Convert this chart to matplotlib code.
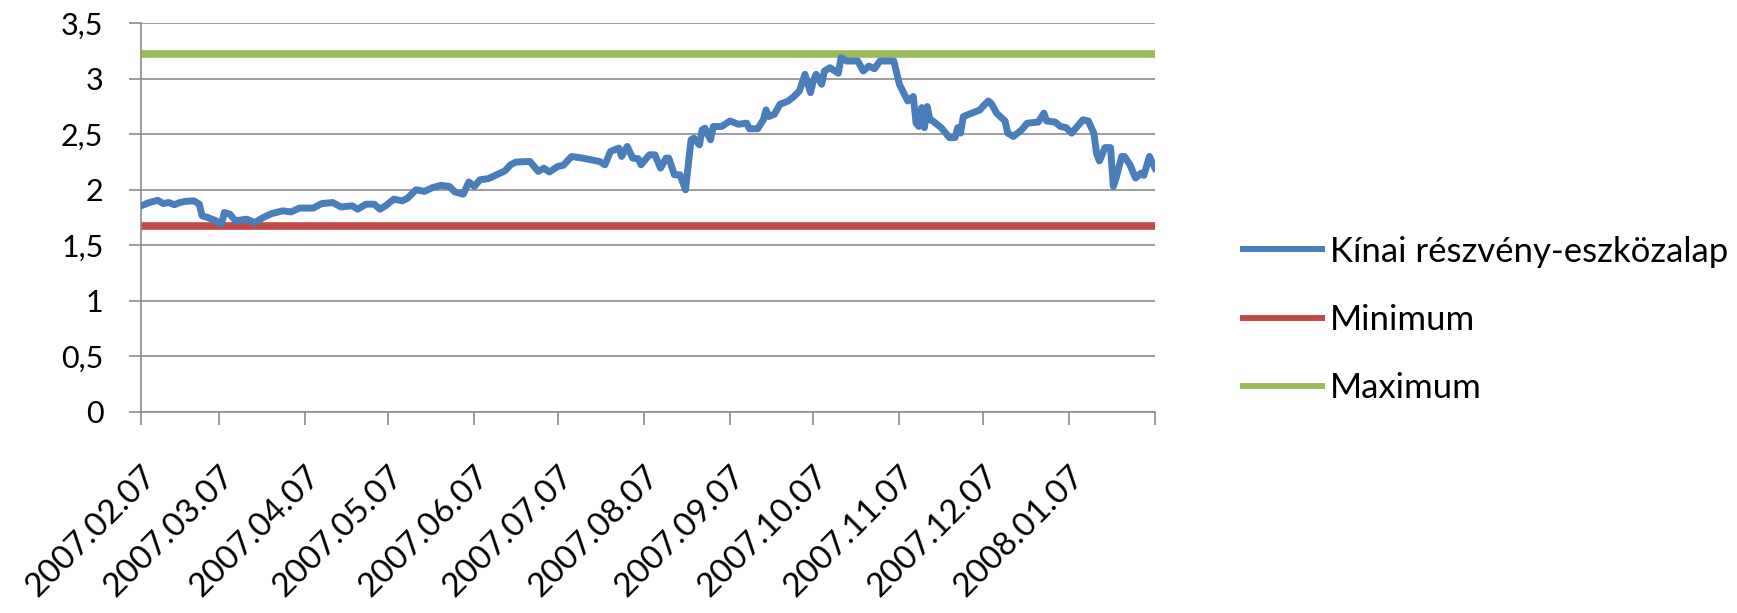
#%% IMPORTS
import datetime as dt
import matplotlib
matplotlib.use("Agg")
import matplotlib.pyplot as plt
from matplotlib.ticker import MultipleLocator, FuncFormatter

#%% DATA
start_date = dt.date(2007, 2, 7)
end_date = dt.date(2008, 2, 7)

# day offsets from start_date and fund value
fund_days = [0, 3, 6, 8, 10, 12, 14, 16, 19, 21, 22, 24, 27, 29, 30, 32, 34, 38,
             41, 44, 47, 51, 54, 57, 62, 65, 69, 72, 76, 78, 81, 84, 86, 88, 91,
             94, 96, 99, 102, 105, 108, 111, 113, 116, 118, 120, 122, 125, 128,
             131, 133, 135, 140, 143, 145, 147, 150, 152, 155, 159, 162, 165,
             167, 169, 172, 173, 175, 177, 179, 180, 183, 185, 187, 189, 190,
             192, 194, 196, 197, 198, 199, 201, 202, 203, 205, 206, 209, 212,
             215, 218, 219, 222, 224, 225, 226, 228, 230, 233, 235, 237, 239,
             241, 242, 243, 245, 246, 248, 251, 252, 254, 258, 260, 262, 264,
             266, 271, 273, 274, 276, 278, 279, 280, 281, 282, 283, 284, 285,
             288, 291, 293, 294, 295, 296, 299, 302, 303, 305, 306, 308, 311,
             312, 314, 317, 319, 323, 325, 326, 329, 331, 333, 335, 337, 339,
             341, 343, 344, 345, 347, 349, 350, 351, 353, 354, 356, 358, 360,
             361, 363, 365]
fund_values = [1.855, 1.885, 1.905, 1.875, 1.885, 1.865, 1.885, 1.895, 1.90, 1.87,
               1.765, 1.75, 1.72, 1.69, 1.795, 1.78, 1.72, 1.735, 1.705, 1.75,
               1.785, 1.81, 1.80, 1.835, 1.835, 1.875, 1.885, 1.845, 1.855, 1.825,
               1.87, 1.87, 1.825, 1.855, 1.915,
               1.90, 1.925, 2.0, 1.985, 2.02, 2.04, 2.03, 1.98, 1.96, 2.07, 2.03,
               2.09, 2.10, 2.135, 2.17, 2.225, 2.25, 2.255, 2.165, 2.195, 2.16,
               2.21, 2.22, 2.30, 2.285, 2.27, 2.255, 2.225, 2.345, 2.375, 2.30,
               2.39, 2.285, 2.28, 2.225, 2.315, 2.315, 2.195, 2.285, 2.285,
               2.135, 2.135, 2.0, 2.225, 2.45, 2.465, 2.405, 2.54, 2.555, 2.45,
               2.57, 2.57, 2.62, 2.59, 2.60, 2.55, 2.55, 2.63, 2.72, 2.66, 2.68,
               2.77, 2.80, 2.84, 2.89, 3.04, 2.875, 2.98, 3.04, 2.95, 3.07, 3.10,
               3.05, 3.19, 3.16, 3.16, 3.07, 3.115, 3.09, 3.16, 3.16, 2.95, 2.90,
               2.80, 2.84, 2.60, 2.57, 2.74, 2.56, 2.75, 2.63, 2.62,
               2.56, 2.47, 2.47, 2.56, 2.51, 2.66, 2.69, 2.72, 2.75, 2.80, 2.78,
               2.69, 2.62, 2.51, 2.48, 2.54, 2.60, 2.61, 2.69, 2.62, 2.61, 2.57,
               2.56, 2.51, 2.57, 2.63, 2.62, 2.51, 2.32, 2.26, 2.38, 2.38, 2.03,
               2.105, 2.30, 2.30, 2.225, 2.105, 2.15, 2.13, 2.30, 2.195]

min_value = 1.67
max_value = 3.22

series_labels = ["Kínai részvény-eszközalap", "Minimum", "Maximum"]
series_colors = ["#4a7ebb", "#be4b48", "#9bbb59"]

month_ticks = [dt.date(2007, m, 7) for m in range(2, 13)] + \
              [dt.date(2008, 1, 7), dt.date(2008, 2, 7)]
tick_labels = [d.strftime("%Y.%m.%d") for d in month_ticks[:-1]] + [""]

#%% PLOT
plt.rcParams['font.family'] = ['Lato', 'DejaVu Sans']

fig = plt.figure(figsize=(17.37, 6.13), dpi=100)
ax = fig.add_axes([141 / 1737, 1 - 411.7 / 613, 1014 / 1737, 388.4 / 613])

fund_dates = [start_date + dt.timedelta(days=d) for d in fund_days]
ax.plot(fund_dates, fund_values, color=series_colors[0], lw=5.0,
        solid_joinstyle='round', label=series_labels[0], zorder=3)
ax.plot([start_date, end_date], [min_value, min_value], color=series_colors[1],
        lw=5.5, label=series_labels[1], zorder=2)
ax.plot([start_date, end_date], [max_value, max_value], color=series_colors[2],
        lw=5.5, label=series_labels[2], zorder=2)

ax.set_xlim(start_date, end_date)
ax.set_ylim(0, 3.5)
ax.yaxis.set_major_locator(MultipleLocator(0.5))
ax.yaxis.set_major_formatter(FuncFormatter(lambda v, p: f"{v:g}".replace(".", ",")))
ax.grid(axis='y', color='#8c8c8c', lw=1.2)
ax.set_axisbelow(True)

ax.set_xticks(month_ticks)
ax.set_xticklabels(tick_labels, rotation=45, ha='right', va='top',
                   rotation_mode='anchor', fontsize=24)

for side in ['top', 'right']:
    ax.spines[side].set_visible(False)
for side in ['left', 'bottom']:
    ax.spines[side].set_color('#8c8c8c')
    ax.spines[side].set_linewidth(1.2)
ax.tick_params(axis='both', colors='#8c8c8c', length=9, width=1.2,
               labelcolor='black')
ax.tick_params(axis='y', pad=18, labelsize=22)
ax.tick_params(axis='x', pad=26)

leg = ax.legend(loc='center left', bbox_to_anchor=(1243 / 1737, 1 - 320 / 613),
                bbox_transform=fig.transFigure, frameon=False, fontsize=25,
                handlelength=2.28, handletextpad=0.23, labelspacing=1.05,
                borderpad=0, borderaxespad=0)
for line in leg.get_lines():
    line.set_linewidth(4.3)

fig.savefig("out.png", dpi=100)
